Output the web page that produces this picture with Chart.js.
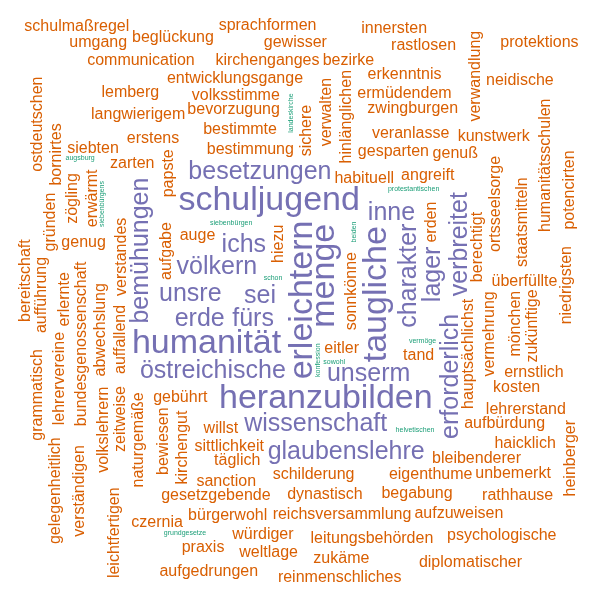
<!DOCTYPE html>
<html>
<head>
<meta charset="utf-8">
<script src="https://cdn.jsdelivr.net/npm/chart.js@4.4.0/dist/chart.umd.min.js"></script>
<style>
  html, body { margin: 0; padding: 0; background: #fff; }
  #cloud { display: block; }
</style>
</head>
<body>
<canvas id="cloud" width="600" height="600"></canvas>
<script>
// words, most frequent first (ties keep this order, inner ones first)
const words = [
  'erleichtern', 'heranzubilden', 'schuljugend', 'menge', 'humanität', 'taugliche',
  'fürs', 'sei', 'völkern', 'ichs', 'charakter', 'östreichische', 'erde', 'lager', 'unsre',
  'besetzungen', 'inne', 'bemühungen', 'verbreitet', 'unserm', 'wissenschaft', 'erforderlich', 'glaubenslehre',
  'sonnkönne', 'hiezu', 'eitler', 'bestimmung', 'aufgabe', 'habituell', 'auge', 'sittlichkeit', 'willst', 'tand',
  'sichere', 'hinlänglichen', 'erden', 'gebührt', 'bestimmte', 'gesparten', 'schilderung', 'berechtigt', 'hauptsächlichst', 'papste',
  'angreift', 'auffallend', 'dynastisch', 'kirchengut', 'verwalten', 'sanction', 'gesetzgebende', 'vermehrung', 'bevorzugung', 'verstandes',
  'abwechslung', 'veranlasse', 'volksstimme', 'eigenthume', 'naturgemäße', 'ortsseelsorge', 'bundesgenossenschaft', 'zwingburgen', 'bewiesen', 'zeitweise',
  'täglich', 'reichsversammlung', 'erstens', 'bürgerwohl', 'genug', 'überfüllte', 'mönchen', 'bleibenderer', 'begabung', 'entwicklungsgange',
  'zarten', 'genuß', 'staatsmitteln', 'volkslehrern', 'leitungsbehörden', 'kosten', 'kirchenganges', 'ermüdendem', 'langwierigem', 'erwärmt',
  'zukünftige', 'bezirke', 'lehrervereine', 'würdiger', 'lehrerstand', 'aufbürdung', 'erkenntnis', 'aufführung', 'zögling', 'humanitätsschulen',
  'siebten', 'kunstwerk', 'weltlage', 'gewisser', 'zukäme', 'reinmenschliches', 'aufzuweisen', 'lemberg', 'niedrigsten', 'praxis',
  'gründen', 'haicklich', 'erlernte', 'unbemerkt', 'verwandlung', 'aufgedrungen', 'grammatisch', 'sprachformen', 'ernstlich', 'bereitschaft',
  'verständigen', 'communication', 'leichtfertigen', 'psychologische', 'innersten', 'czernia', 'beglückung', 'rastlosen', 'diplomatischer', 'bornirtes',
  'neidische', 'schulmaßregel', 'potencirten', 'heinberger', 'ostdeutschen', 'rathhause', 'umgang', 'protektions', 'untergebracht', 'technischer',
  'musterhauptschule', 'astronomie', 'gelegenheitlich',
  'schon', 'sowohl', 'siebenbürgen', 'protestantischen', 'beiden', 'helvetischen',
  'vermöge', 'konfession', 'landeskirche', 'augsburg', 'siebenbürgens', 'grundgesetze'
];

const freqs = [
  7, 7, 7, 7, 7, 7,
  5, 5, 5, 5, 5, 5, 5, 5, 5,
  5, 5, 5, 5, 5, 5, 5, 5,
  3, 3, 3, 3, 3, 3, 3, 3, 3, 3,
  3, 3, 3, 3, 3, 3, 3, 3, 3, 3,
  3, 3, 3, 3, 3, 3, 3, 3, 3, 3,
  3, 3, 3, 3, 3, 3, 3, 3, 3, 3,
  3, 3, 3, 3, 3, 3, 3, 3, 3, 3,
  3, 3, 3, 3, 3, 3, 3, 3, 3, 3,
  3, 3, 3, 3, 3, 3, 3, 3, 3, 3,
  3, 3, 3, 3, 3, 3, 3, 3, 3, 3,
  3, 3, 3, 3, 3, 3, 3, 3, 3, 3,
  3, 3, 3, 3, 3, 3, 3, 3, 3, 3,
  3, 3, 3, 3, 3, 3, 3, 3, 3, 3,
  3, 3, 3,
  1, 1, 1, 1, 1, 1,
  1, 1, 1, 1, 1, 1
];

// words drawn reading bottom to top
const verticalWords = [
  'erleichtern', 'menge', 'taugliche', 'lager', 'erforderlich', 'charakter', 'verbreitet', 'bemühungen',
  'sonnkönne', 'hiezu', 'aufgabe', 'sichere', 'hinlänglichen', 'erden', 'berechtigt', 'hauptsächlichst',
  'papste', 'auffallend', 'kirchengut', 'verwalten', 'vermehrung', 'verstandes', 'abwechslung', 'naturgemäße',
  'ortsseelsorge', 'bundesgenossenschaft', 'bewiesen', 'zeitweise', 'mönchen', 'staatsmitteln', 'volkslehrern',
  'erwärmt', 'zukünftige', 'lehrervereine', 'aufführung', 'zögling', 'humanitätsschulen', 'niedrigsten',
  'gründen', 'erlernte', 'verwandlung', 'grammatisch', 'bereitschaft', 'verständigen', 'leichtfertigen',
  'bornirtes', 'potencirten', 'heinberger', 'ostdeutschen', 'musterhauptschule', 'gelegenheitlich',
  'beiden', 'konfession', 'landeskirche', 'siebenbürgens'
];

const palette = ['#1B9E77', '#D95F02', '#7570B3'];   // Dark2, low -> high
const sizeRange = [34, 2.5];                          // px at max freq, px at freq 0
const W = 600, H = 600, EDGE = 14;

const canvas = document.getElementById('cloud');
const ctx = canvas.getContext('2d');
const maxFreq = Math.max(...freqs);

function fontFor(size) {
  return size + 'px "Liberation Sans", Arial, sans-serif';
}

function overlaps(a, b) {
  return a.x0 < b.x1 && a.x1 > b.x0 && a.y0 < b.y1 && a.y1 > b.y0;
}

// spiral placement, biggest words first, steps as in R's wordcloud
const tstep = 0.1, rstep = 0.05 * W;
const boxes = [];
const items = [];
words.forEach((word, i) => {
  const nf = freqs[i] / maxFreq;
  const size = sizeRange[1] + (sizeRange[0] - sizeRange[1]) * nf;
  const color = palette[Math.ceil(palette.length * nf) - 1];
  ctx.font = fontFor(size);
  const m = ctx.measureText(word);
  const asc = m.actualBoundingBoxAscent, desc = m.actualBoundingBoxDescent;
  const vertical = verticalWords.includes(word);
  let bw = m.width + 2, bh = asc + desc + 2;
  if (vertical) { const t = bw; bw = bh; bh = t; }

  let r = 0, theta = Math.PI + i * 2.39996;
  for (let step = 0; step < 100000 && r < 460; step++) {
    const cx = W / 2 + r * Math.cos(theta);
    const cy = H / 2 + r * Math.sin(theta);
    const box = { x0: cx - bw / 2, y0: cy - bh / 2, x1: cx + bw / 2, y1: cy + bh / 2 };
    if (box.x0 >= EDGE && box.x1 <= W - EDGE && box.y0 >= EDGE && box.y1 <= H - EDGE &&
        !boxes.some(o => overlaps(box, o))) {
      boxes.push(box);
      items.push({ word, size, color, vertical, width: m.width, asc, desc, x: cx, y: cy });
      break;
    }
    theta += tstep;
    r += rstep * tstep / (2 * Math.PI);
  }
});

const wordPlugin = {
  id: 'wordText',
  afterDatasetsDraw(chart) {
    const meta = chart.getDatasetMeta(0);
    const c = chart.ctx;
    meta.data.forEach((pt, i) => {
      const it = items[i];
      c.save();
      c.translate(pt.x, pt.y);
      if (it.vertical) c.rotate(-Math.PI / 2);
      c.font = fontFor(it.size);
      c.fillStyle = it.color;
      c.textAlign = 'left';
      c.textBaseline = 'alphabetic';
      c.fillText(it.word, -it.width / 2, (it.asc - it.desc) / 2);
      c.restore();
    });
  }
};

new Chart(canvas, {
  type: 'scatter',
  data: {
    datasets: [{
      label: 'words',
      data: items.map(it => ({ x: it.x, y: it.y })),
      pointRadius: 0,
      pointHoverRadius: 0
    }]
  },
  options: {
    responsive: false,
    animation: false,
    layout: { padding: 0 },
    scales: {
      x: { type: 'linear', min: 0, max: W, display: false },
      y: { type: 'linear', min: 0, max: H, reverse: true, display: false }
    },
    plugins: { legend: { display: false }, tooltip: { enabled: false } }
  },
  plugins: [wordPlugin]
});
</script>
</body>
</html>
